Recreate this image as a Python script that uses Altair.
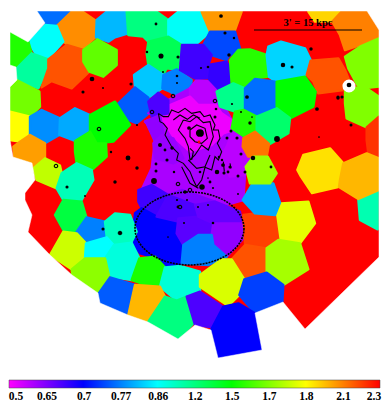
import altair as alt
import numpy as np

# Colour bar
bar_labels = ["0.5","0.65","0.7","0.77","0.86","1.2","1.5","1.7","1.8","2.1","2.3"]
bar_values = [0.5,0.65,0.7,0.77,0.86,1.2,1.5,1.7,1.8,2.1,2.3]
bar_colors = ["#ff00ff","#8000ff","#0000ff","#0080ff","#00ffff","#00ff80","#00ff00","#80ff00","#ffff00","#ff8000","#ff0000"]

# Outline of the mapped region (image pixels)
region = [(37,11),(367,11),(379,30),(379,257),(305,329),(283,302),(255,313),(262,350),(218,358),(211,330),(195,325),(178,339),
          (148,322),(128,315),(100,303),(98,293),(72,275),(50,255),(28,232),(32,215),(25,200),(25,193),(35,180),(32,163),(13,157),
          (10,140),(10,112),(10,87),(17,80),(16,67),(10,65),(10,32),(28,42),(45,23)]

# Crop origins the outlines were read in (outlines are in 1/3 pixel units from these origins)
origins = {"z1": (0,0), "z2": (195,0), "z3": (0,180), "z4": (195,180), "a": (130,80), "b": (125,180)}

# Map cells: (crop, value, outline)
map_cells = [
 ("z1",0.76,[(110,35),(245,35),(215,38),(170,78),(135,68)]),
 ("z1",2.07,[(170,78),(215,35),(248,35),(292,65),(288,110),(250,145),(205,135),(190,125)]),
 ("z1",0.81,[(290,60),(320,35),(380,35),(385,100),(345,112),(325,125),(288,112)]),
 ("z1",1.2,[(380,35),(470,35),(505,60),(505,112),(445,125),(430,110),(385,105)]),
 ("z1",0.88,[(505,60),(535,35),(606,35),(630,96),(585,135),(545,135),(505,112)]),
 ("z1",0.87,[(85,125),(135,75),(170,78),(190,125),(145,175),(110,165)]),
 ("z1",1.55,[(30,95),(85,125),(95,160),(50,205),(30,195)]),
 ("z1",1.12,[(50,205),(95,160),(145,178),(145,205),(115,265),(50,240)]),
 ("z1",2.17,[(145,178),(200,135),(250,150),(250,185),(268,215),(215,265),(155,243),(125,262),(145,205)]),
 ("z1",1.65,[(250,150),(292,118),(350,150),(350,195),(310,230),(268,215),(250,185)]),
 ("z1",1.3,[(445,125),(505,110),(545,135),(535,190),(540,210),(500,205),(490,225),(445,195),(440,160)]),
 ("z1",0.82,[(402,225),(445,195),(490,225),(487,265),(445,293),(405,262)]),
 ("z1",0.77,[(490,225),(530,208),(575,240),(572,270),(545,295),(510,275),(487,265)]),
 ("z1",1.68,[(30,260),(50,240),(118,275),(120,320),(90,350),(30,335)]),
 ("z1",0.75,[(355,310),(405,262),(445,293),(447,340),(410,370),(385,360)]),
 ("z1",1.8,[(30,335),(90,350),(87,405),(60,425),(30,420)]),
 ("z1",0.78,[(90,350),(125,330),(180,355),(178,405),(135,430),(90,405)]),
 ("z1",0.8,[(180,355),(225,325),(270,345),(270,395),(225,423),(178,405)]),
 ("z1",1.5,[(270,345),(345,305),(390,375),(340,425),(290,430),(270,395)]),
 ("z1",2.03,[(60,425),(90,405),(135,430),(135,475),(100,505),(45,490),(40,440)]),
 ("z1",1.54,[(225,423),(270,395),(290,430),(318,430),(320,470),(275,510),(230,490),(225,455)]),
 ("z1",1.75,[(100,505),(135,475),(180,497),(185,520),(170,565),(110,540)]),
 ("z1",1.05,[(185,520),(230,490),(275,510),(280,540),(245,600),(190,600),(170,565)]),
 ("a",0.6,[(55,100),(90,105),(45,125),(50,130),(75,180),(65,265),(30,340),(40,385),(200,400),(340,360),(345,285),(360,235),(335,210),(340,160),(305,120),(262,40),(200,0),(180,25),(115,60)]),
 ("a",0.58,[(180,25),(200,0),(250,5),(262,40),(258,75),(205,80),(180,50)]),
 ("a",0.52,[(120,75),(180,50),(205,75),(258,75),(275,100),(305,120),(310,150),(280,160),(245,195),(180,215),(130,170),(85,100)]),
 ("a",0.67,[(55,65),(85,38),(115,60),(115,100),(90,105),(65,110)]),
 ("a",0.63,[(45,125),(90,105),(100,160),(75,185),(50,130)]),
 ("a",0.62,[(70,190),(95,165),(130,175),(160,235),(130,250),(75,235)]),
 ("a",0.58,[(310,150),(340,160),(335,210),(360,235),(345,285),(300,290),(270,235),(290,200)]),
 ("b",0.675,[(40,30),(80,15),(130,45),(95,110),(50,85),(40,65)]),
 ("b",0.65,[(130,45),(170,30),(270,65),(210,75)]),
 ("b",0.7,[(22,170),(30,100),(50,85),(95,110),(160,115),(155,160),(175,195),(170,250),(120,262),(100,235),(45,220),(20,190)]),
 ("b",0.67,[(95,110),(130,45),(210,75),(220,110),(160,125)]),
 ("b",0.665,[(160,115),(220,110),(265,130),(260,165),(220,165),(175,195),(155,160)]),
 ("b",0.66,[(210,75),(270,65),(345,95),(350,130),(265,130),(220,110)]),
 ("b",0.63,[(265,130),(350,130),(360,170),(305,230),(265,195),(260,165)]),
 ("b",0.77,[(175,195),(220,165),(260,165),(265,195),(305,230),(250,255),(170,250)]),
 ("z3",1.35,[(165,105),(190,60),(245,65),(260,115),(232,158),(190,150)]),
 ("z3",0.77,[(230,155),(260,112),(315,125),(320,170),(258,190)]),
 ("z3",1.03,[(315,125),(345,100),(390,105),(410,155),(395,185),(345,195),(320,170)]),
 ("z3",1.76,[(150,225),(190,155),(230,160),(258,190),(255,235),(215,268)]),
 ("z3",0.86,[(258,190),(320,172),(342,197),(315,235),(255,235)]),
 ("z3",0.95,[(342,195),(395,188),(418,235),(395,300),(330,290),(315,235)]),
 ("z3",1.71,[(215,268),(255,235),(315,235),(328,292),(295,342),(220,310)]),
 ("z3",1.54,[(418,235),(465,230),(495,262),(480,320),(440,315),(395,300)]),
 ("z3",0.97,[(495,262),(540,258),(600,275),(600,335),(560,350),(530,362),(480,320)]),
 ("z3",0.75,[(295,342),(330,292),(405,315),(385,405),(305,380)]),
 ("z3",1.97,[(405,315),(480,320),(495,350),(445,425),(385,405)]),
 ("z3",1.2,[(495,350),(530,362),(560,350),(580,430),(535,478),(445,425)]),
 ("z3",0.67,[(560,350),(600,335),(665,378),(633,441),(585,435)]),
 ("z4",1.78,[(240,100),(258,70),(340,65),(360,130),(315,190),(250,178)]),
 ("z4",2.2,[(145,105),(180,100),(240,108),(250,180),(215,205),(150,190)]),
 ("z4",2.17,[(110,238),(150,195),(215,205),(215,275),(150,298)]),
 ("z4",1.73,[(215,205),(250,180),(315,190),(340,268),(265,315),(215,275)]),
 ("z4",1.07,[(490,58),(548,30),(548,148),(495,120)]),
 ("z4",1.77,[(15,285),(80,238),(110,238),(148,298),(133,345),(100,378),(15,320)]),
 ("z4",0.735,[(148,298),(215,278),(265,315),(262,365),(180,400),(133,345)]),
 ("z4",0.7,[(48,450),(85,380),(130,370),(180,400),(200,510),(70,535)]),
 ("z4",0.8,[(143,60),(170,15),(235,10),(255,68),(240,105),(180,100)]),
 ("z2",2.04,[(20,35),(140,35),(120,90),(45,95)]),
 ("z2",0.74,[(45,95),(120,95),(135,145),(100,170),(95,180),(50,165),(25,135)]),
 ("z2",0.68,[(40,195),(95,185),(105,205),(115,250),(75,272),(40,235)]),
 ("z2",0.675,[(-39,135),(25,135),(50,165),(40,195),(35,235),(0,235),(-45,210)]),
 ("z2",1.9,[(340,35),(440,35),(410,65),(360,65)]),
 ("z2",2.1,[(440,35),(515,35),(552,95),(552,115),(495,135),(450,150),(435,105),(412,65)]),
 ("z2",1.7,[(450,170),(495,140),(552,115),(552,260),(505,265),(487,255),(460,205)]),
 ("z2",1.7,[(450,270),(487,262),(505,258),(552,290),(552,350),(515,382),(455,355),(450,310)]),
 ("z2",1.56,[(105,180),(130,150),(165,148),(215,165),(222,230),(180,235),(150,265),(110,250)]),
 ("z2",0.83,[(215,165),(220,140),(258,125),(330,145),(347,180),(330,225),(250,250),(222,230)]),
 ("z2",2.17,[(335,225),(347,182),(430,175),(450,210),(462,240),(445,270),(370,280),(355,245)]),
 ("z2",1.17,[(65,275),(115,250),(150,265),(147,330),(120,335),(75,320)]),
 ("z2",0.76,[(150,265),(180,237),(240,245),(245,320),(210,335),(185,350),(150,330)]),
 ("z2",1.5,[(245,245),(330,230),(362,275),(355,320),(285,355),(245,320)]),
 ("z2",1.55,[(120,335),(147,330),(185,350),(182,390),(145,408),(110,385)]),
 ("z2",1.25,[(185,350),(245,325),(285,355),(280,400),(225,432),(185,395)]),
 ("z2",2.22,[(515,382),(552,350),(552,480),(520,460),(515,420)]),
 ("z2",2.12,[(145,415),(180,395),(222,432),(215,470),(160,470),(143,440)]),
 ("z2",1.72,[(152,500),(175,470),(218,470),(245,520),(225,550),(165,550)]),
 ("z2",1.87,[(307,510),(325,465),(405,445),(445,490),(435,540),(429,561),(351,579),(318,530)]),
 ("z2",1.97,[(445,490),(515,460),(552,475),(552,570),(490,597),(432,561),(435,540)]),
]

# Point sources
dot_x = [92,83,103,131,147,161,178,163,177,177,156,137,189,156,111,154,115,137,128,156,202,208,
         221,225,234,229,208,201,283,292,311,247,232,241,250,252,277,253,271,245,238,317,338,338,342,351,319,
         230,217,237,241,231,227,215,216,198,210,200,
         67,85,103,120,168,184,178,185,177,187,238,208,213,198,213,
         223,224,228,222,219,160,165,167,172,174]
dot_y = [79,92,88,84,52,56,57,72,76,83,24,125,128,164,152,181,182,168,158,171,187,178,
         16,33,38,55,67,68,65,67,49,97,104,112,123,117,139,158,167,172,176,109,98,97,97,125,137,
         167,172,138,154,131,138,117,109,133,182,172,
         187,196,229,233,237,223,207,192,200,200,194,205,223,207,188,
         165,173,172,160,157,145,150,160,148,172]
dot_s = [22,10,4,10,6,26,10,4,7,4,8,5,14,8,6,34,12,12,24,9,30,3,
         14,10,6,12,7,5,20,10,12,14,5,4,12,3,34,20,8,9,9,14,11,10,10,9,3,
         10,20,10,9,9,9,9,7,18,8,7,
         10,4,10,6,3,4,8,12,5,4,4,4,7,4,5,
         14,10,8,6,6,16,8,10,12,6]
ring_x = [56,173,152,99,120,180,178,190,215]
ring_y = [166,96,112,129,233,207,184,190,101]

# Surface brightness contours (1/3 pixel units from crop "a")
contours = {
 "a": [(85,100),(100,110),(115,110),(125,90),(145,98),(165,85),(185,100),(210,95),(222,110),(240,105),(255,135),(250,150),(265,150),(270,175),(262,190),(275,215),(265,240),(255,230),(245,270),(225,262),(215,300),(200,320),(190,300),(180,275),(160,250),(140,240),(145,220),(125,200),(105,165),(112,145),(100,130),(90,125),(85,100)],
 "b": [(160,120),(180,125),(200,110),(220,128),(240,125),(250,170),(235,210),(215,195),(195,225),(180,240),(175,200),(165,175),(145,150),(160,120)],
 "c": [(180,150),(200,135),(225,145),(232,175),(215,190),(195,185),(180,170),(180,150)],
 "d": [(175,240),(185,250),(200,265),(225,260),(240,225)],
 "e": [(155,260),(170,290),(180,310),(205,325)],
 "f": [(130,120),(150,105),(172,118),(190,105),(210,115)],
 "g": [(180,205),(190,215),(185,240)],
 "h": [(280,245),(283,275)],
 "i": [(300,250),(303,265)],
}

ell_cx, ell_cy, ell_rx, ell_ry = 189.5, 228.5, 54.5, 36.5
X0, Y0, W, H = 8, 8, 374, 399
x_scale = alt.Scale(domain=[X0, X0+W], nice=False, zero=False)
y_scale = alt.Scale(domain=[Y0+H, Y0], nice=False, zero=False)
color_scale = alt.Scale(domain=bar_values, range=bar_colors, interpolate="rgb")
proj = dict(type="identity", scale=1, translate=[-X0, -Y0])


def to_image(crop, pts):
    ox, oy = origins[crop]
    return [[ox+a/3, oy+b/3] for a, b in pts]


def feature(v, pts):
    ring = [list(p) for p in pts]+[list(pts[0])]
    return {"type": "Feature", "geometry": {"type": "Polygon", "coordinates": [ring]}, "properties": {"v": v}}


features = [feature(2.3, region)]+[feature(v, to_image(c, p)) for c, v, p in map_cells]

cells = alt.Chart(alt.Data(values=features)).mark_geoshape(strokeWidth=2.4, strokeJoin="round").encode(
    color=alt.Color("properties.v:Q", scale=color_scale, legend=None),
    stroke=alt.Stroke("properties.v:Q", scale=color_scale, legend=None),
).project(**proj)

outer = [[0, 0], [400, 0], [400, 415], [0, 415], [0, 0]]
hole = [list(p) for p in region]+[list(region[0])]
mask = alt.Chart(alt.Data(values=[{"type": "Feature", "geometry": {"type": "Polygon", "coordinates": [outer, hole[::-1]]}, "properties": {}}])).mark_geoshape(
    fill="white", stroke="white", strokeWidth=0.5).project(**proj)

xe = alt.X("x:Q", scale=x_scale, axis=None)
ye = alt.Y("y:Q", scale=y_scale, axis=None)

white_pt = alt.Chart(alt.Data(values=[{"x": 349, "y": 86}])).mark_point(filled=True, color="white", size=170, opacity=1, shape="circle").encode(xe, ye)

rows = []
for name, pts in contours.items():
    for k, (a, b) in enumerate(to_image("a", pts)):
        rows.append({"c": name, "k": k, "x": a, "y": b})
cont = alt.Chart(alt.Data(values=rows)).mark_line(color="black", strokeWidth=1.1, interpolate="linear").encode(xe, ye, detail="c:N", order="k:Q")

dots = alt.Chart(alt.Data(values=[{"x": a, "y": b, "s": s} for a, b, s in zip(dot_x, dot_y, dot_s)]+[{"x": 349, "y": 85, "s": 22}, {"x": 200, "y": 133, "s": 60}])).mark_circle(color="black", opacity=1).encode(
    xe, ye, size=alt.Size("s:Q", scale=None, legend=None))
hot = alt.Chart(alt.Data(values=[{"x": 199, "y": 142}])).mark_circle(color="#ff0000", size=8, opacity=1).encode(xe, ye)
rings = alt.Chart(alt.Data(values=[{"x": a, "y": b} for a, b in zip(ring_x, ring_y)])).mark_point(color="black", size=12, strokeWidth=1.1, opacity=1).encode(xe, ye)

theta = np.linspace(0, 2*np.pi, 121)
ell = alt.Chart(alt.Data(values=[{"k": int(k), "x": float(ell_cx+ell_rx*np.cos(t)), "y": float(ell_cy+ell_ry*np.sin(t))} for k, t in enumerate(theta)])).mark_line(
    color="black", strokeWidth=1.6, strokeDash=[2, 1]).encode(xe, ye, order="k:Q")

scale_line = alt.Chart(alt.Data(values=[{"x": 254, "x2": 362, "y": 30}])).mark_rule(color="black", strokeWidth=1).encode(xe, alt.X2("x2:Q"), ye)
scale_text = alt.Chart(alt.Data(values=[{"x": 308, "y": 23, "t": "3' = 15 kpc"}])).mark_text(font="Liberation Serif", fontWeight="bold", fontSize=10.5, color="black").encode(xe, ye, text="t:N")

stops = [{"offset": i/10, "color": c} for i, c in enumerate(bar_colors)]
cbar = alt.Chart(alt.Data(values=[{"x": 9, "x2": 380, "y": 380, "y2": 388}])).mark_rect(
    fill={"gradient": "linear", "stops": stops, "x1": 0, "x2": 1, "y1": 0, "y2": 0}, stroke="#444444", strokeWidth=0.5).encode(xe, alt.X2("x2:Q"), ye, alt.Y2("y2:Q"))

label_x = [16]+[10+37.05*i for i in range(1, 10)]+[374]
label_rows = [{"x": a, "y": 397, "t": t} for a, t in zip(label_x, bar_labels)]
cbar_text = alt.Chart(alt.Data(values=label_rows)).mark_text(font="Liberation Serif", fontWeight="bold", fontSize=11.5, color="black").encode(xe, ye, text="t:N")

chart = alt.layer(cells, mask, white_pt, ell, cont, dots, hot, rings, scale_line, scale_text, cbar, cbar_text).properties(
    width=W, height=H, padding=0, autosize=alt.AutoSizeParams(type="none")
).configure_view(stroke=None)

chart.save("out.html", embed_options={"renderer": "svg", "actions": False})
